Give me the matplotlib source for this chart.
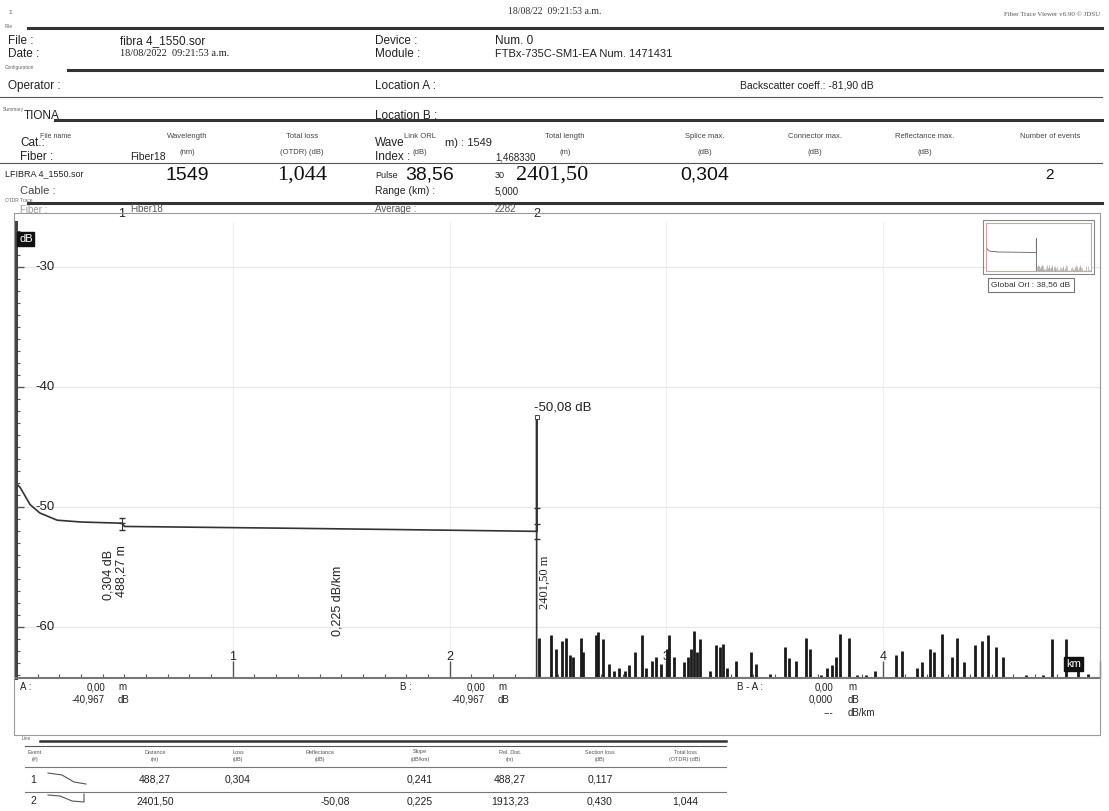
import matplotlib
matplotlib.use("Agg")
import matplotlib.pyplot as plt
import matplotlib.transforms as mtransforms
from matplotlib.lines import Line2D
from matplotlib.patches import Rectangle

plt.rcParams["font.family"] = ["Liberation Sans", "DejaVu Sans"]

trace_km = [0.0, 0.0, 0.02, 0.065, 0.11, 0.19, 0.30, 0.45, 0.488, 0.50, 0.80, 1.31, 1.80, 2.20, 2.4015, 2.4015, 2.4015]
trace_db = [-20.0, -48.0, -48.4, -49.8, -50.5, -51.1, -51.25, -51.33, -51.35, -51.62, -51.68, -51.78, -51.89, -51.98, -52.03, -42.5, -64.6]

noise_km = [2.414, 2.466, 2.492, 2.518, 2.535, 2.557, 2.570, 2.604, 2.616, 2.674,
            2.686, 2.708, 2.734, 2.760, 2.783, 2.807, 2.829, 2.855, 2.887, 2.907,
            2.933, 2.951, 2.973, 3.003, 3.011, 3.037, 3.081, 3.098, 3.115, 3.127,
            3.141, 3.153, 3.202, 3.228, 3.245, 3.263, 3.280, 3.323, 3.392, 3.413,
            3.479, 3.545, 3.566, 3.597, 3.644, 3.661, 3.713, 3.739, 3.765, 3.782,
            3.800, 3.843, 3.878, 3.921, 3.964, 4.060, 4.086, 4.155, 4.181, 4.215,
            4.233, 4.273, 4.319, 4.342, 4.371, 4.423, 4.458, 4.484, 4.519, 4.553,
            4.657, 4.735, 4.779, 4.843, 4.900, 4.943]
noise_db = [-60.9, -60.7, -61.8, -61.2, -60.9, -62.3, -62.5, -60.9, -62.1, -60.7,
            -60.4, -61.0, -63.1, -63.7, -63.4, -63.7, -63.2, -62.1, -60.7, -63.4,
            -62.8, -62.5, -63.1, -61.8, -60.7, -62.5, -62.9, -62.5, -61.8, -60.3,
            -62.1, -61.0, -63.7, -61.5, -61.7, -61.4, -63.4, -62.8, -62.1, -63.1,
            -63.9, -61.7, -62.6, -62.8, -60.9, -61.8, -64.0, -63.4, -63.2, -62.5,
            -60.6, -60.9, -64.0, -64.0, -63.7, -62.3, -62.0, -63.4, -62.9, -61.8,
            -62.1, -60.6, -62.5, -60.9, -62.9, -61.5, -61.2, -60.7, -61.7, -62.5,
            -64.0, -64.0, -61.0, -61.0, -63.7, -63.9]

event_km = [0.48827, 2.4015]
event_num = ["1", "2"]
event_loss_txt = "0,304 dB"
event_dist_txt = ["488,27 m", "2401,50 m"]
slope_txt = "0,225 dB/km"
refl_txt = "-50,08 dB"

y_ticks = [-30, -40, -50, -60]
x_ticks = [1, 2, 3, 4]

summary_head = ["Wavelength", "Total loss", "Link ORL", "Total length", "Splice max.",
                "Connector max.", "Reflectance max.", "Number of events"]
summary_unit = ["(nm)", "(OTDR) (dB)", "(dB)", "(m)", "(dB)", "(dB)", "(dB)", ""]
summary_vals = ["1549", "1,044", "38,56", "2401,50", "0,304", "", "", "2"]

table_head = [("Event", "(#)"), ("Distance", "(m)"), ("Loss", "(dB)"), ("Reflectance", "(dB)"),
              ("Slope", "(dB/km)"), ("Rel. Dist.", "(m)"), ("Section loss", "(dB)"),
              ("Total loss", "(OTDR) (dB)")]
table_rows = [["1", "488,27", "0,304", "", "0,241", "488,27", "0,117", ""],
              ["2", "2401,50", "", "-50,08", "0,225", "1913,23", "0,430", "1,044"]]

W, H = 1109, 811
fig = plt.figure(figsize=(W / 100, H / 100), dpi=100)
SANS = ["Liberation Sans", "DejaVu Sans"]
SERIF = ["Liberation Serif", "DejaVu Serif"]


def txt(x, y, s, size=8, ha="left", va="center", fam=SANS, color="#222", **kw):
    fig.text(x / W, 1 - y / H, s, fontsize=size, ha=ha, va=va, family=fam, color=color, **kw)


def hline(y, x0, x1, lw=1.0, color="#333"):
    fig.add_artist(Line2D([x0 / W, x1 / W], [1 - y / H, 1 - y / H], lw=lw, color=color))


# ---- header ----
txt(8, 12, "1", 4.5, color="#555")
txt(555, 12, "18/08/22  09:21:53 a.m.", 7, ha="center", fam=SERIF, color="#333")
txt(1100, 14, "Fiber Trace Viewer v6.90 \u00a9 JDSU", 5, ha="right", fam=SERIF, color="#555")

txt(5, 26, "File", 3.5, color="#666")
hline(28, 28, 1102, 2.2)
txt(8, 41, "File :", 8.5)
txt(120, 41, "fibra 4_1550.sor", 8.5)
txt(375, 41, "Device :", 8.5)
txt(495, 41, "Num. 0", 8.5)
txt(8, 54, "Date :", 8.5)
txt(120, 54, "18/08/2022  09:21:53 a.m.", 7.5, fam=SERIF)
txt(375, 54, "Module :", 8.5)
txt(495, 54, "FTBx-735C-SM1-EA Num. 1471431", 8)

txt(5, 68, "Configuration", 3.5, color="#666")
hline(70, 68, 1102, 2.2)
txt(8, 86, "Operator :", 8.5)
txt(375, 86, "Location A :", 8.5)
txt(740, 86, "Backscatter coeff.: -81,90 dB", 7.5)
hline(97, 0, 1102, 0.8, "#555")

# summary block (overlapping the configuration text as in the print)
txt(3, 110, "Summary", 3.5, color="#666")
txt(24, 116, "TIONA", 8.5)
txt(375, 116, "Location B :", 8.5)
hline(120, 55, 1102, 2.2)
txt(20, 143, "Cat.:", 8.5)
txt(40, 136, "File name", 5, color="#444")
txt(375, 143, "Wave", 8.5)
txt(445, 143, "m) : 1549", 8)
txt(20, 157, "Fiber :", 8.5)
txt(130, 157, "Fiber18", 7.5)
txt(375, 157, "Index :", 8.5)
txt(495, 158, "1,468330", 7)
hcols = [187, 302, 420, 565, 705, 815, 925, 1050]
for cx, h, u in zip(hcols, summary_head, summary_unit):
    txt(cx, 137, h, 5.5, ha="center", color="#444")
    if u:
        txt(cx, 152, u, 5.5, ha="center", color="#444")
hline(163, 0, 1102, 0.8, "#555")
txt(5, 174, "LFIBRA 4_1550.sor", 6.5)
txt(375, 175, "Pulse", 6.5)
txt(495, 175, "30", 6.5)
vcols = [187, 302, 430, 552, 705, 815, 925, 1050]
for i, (cx, v) in enumerate(zip(vcols, summary_vals)):
    serif = i in (1, 3)
    fam = SERIF if serif else SANS
    sz = 11 if i == 7 else (16 if serif else 14)
    txt(cx, 175, v, sz, ha="center", fam=fam, color="#111")
txt(20, 191, "Cable :", 8, color="#444")
txt(375, 191, "Range (km) :", 7.5)
txt(495, 191, "5,000", 7)
txt(5, 200, "OTDR Trace", 3.5, color="#666")
txt(20, 210, "Fiber :", 7, color="#999")
txt(130, 209, "Fiber18", 7, color="#555")
txt(375, 209, "Average :", 7, color="#555")
txt(495, 209, "2282", 7, color="#555")
hline(203, 28, 1102, 2.2)

# ---- trace axes ----
ax = fig.add_axes([16 / W, 1 - 678 / H, (1100 - 16) / W, (678 - 222) / H])
ax.set_xlim(0, 5)
ax.set_ylim(-64.25, -26.25)
ax.plot(trace_km, trace_db, color="#333", lw=1.2, solid_joinstyle="miter")
ax.vlines(noise_km, -64.6, noise_db, color="#1a1a1a", lw=2.0)

ax.set_xticks(range(0, 6))
ax.set_xticks([i / 10 for i in range(51)], minor=True)
ax.set_yticks(y_ticks)
ax.set_yticks(range(-64, -26), minor=True)
ax.tick_params(which="both", direction="in", labelleft=False, labelbottom=False,
               color="#555")
ax.tick_params(axis="x", which="major", length=12, width=1)
ax.tick_params(axis="x", which="minor", length=3, width=0.8)
ax.tick_params(axis="y", which="major", length=6, width=1)
ax.tick_params(axis="y", which="minor", length=3, width=0.8)
ax.grid(True, which="major", axis="y", color="#e8e8e8", lw=0.9)
ax.grid(True, which="major", axis="x", color="#f0f0f0", lw=0.8)
for s in ("top", "right"):
    ax.spines[s].set_visible(False)
ax.spines["left"].set_linewidth(2.2)
ax.spines["left"].set_color("#444")
ax.spines["bottom"].set_linewidth(1.5)
ax.spines["bottom"].set_color("#777")

ytr = mtransforms.blended_transform_factory(ax.transAxes, ax.transData)
for v in y_ticks:
    ax.text(0.018, v, str(v), transform=ytr, fontsize=9.5, ha="left", va="center", color="#222")
for k in x_ticks:
    ax.text(k, -62.5, str(k), fontsize=9, ha="center", va="center", color="#222")

# event markers
xtr = mtransforms.blended_transform_factory(ax.transData, ax.transAxes)
for km, n in zip(event_km, event_num):
    ax.text(km, 1.005, n, transform=xtr, fontsize=9, ha="center", va="bottom", color="#222")
ax.plot([event_km[0]] * 3, [-50.9, -51.35, -51.9], color="#333", lw=0.8, marker="_", ms=5)
ax.plot([event_km[1]] * 3, [-50.1, -51.4, -52.7], color="#333", lw=0, marker="_", ms=5)
ax.plot([event_km[1]], [-42.5], marker="s", ms=3, mfc="white", mec="#444", mew=0.7)

ax.text(event_km[0] - 0.06, -55.7, event_loss_txt, rotation=90, fontsize=9,
        ha="center", va="center", color="#222")
ax.text(event_km[0], -55.3, event_dist_txt[0], rotation=90, fontsize=9,
        ha="center", va="center", color="#222")
ax.text((event_km[0] + event_km[1]) / 2 + 0.04, -57.8, slope_txt, rotation=90, fontsize=9,
        ha="center", va="center", color="#222")
ax.text(event_km[1] + 0.01, -56.3, event_dist_txt[1], rotation=90, fontsize=9,
        ha="left", va="center", family=SERIF, color="#222")
ax.text(event_km[1] - 0.01, -41.7, refl_txt, fontsize=9.5, ha="left", va="center", color="#222")

txt(19, 239, "dB", 8, color="white",
    bbox=dict(boxstyle="square,pad=0.15", fc="#111", ec="#111"))
txt(1066, 664, "km", 8, color="white",
    bbox=dict(boxstyle="square,pad=0.15", fc="#111", ec="#111"))

# thumbnail of the whole trace
ins = fig.add_axes([986 / W, 1 - 271 / H, 105 / W, 48 / H])
ins.plot(trace_km, trace_db, color="#777", lw=0.7)
ins.vlines(noise_km, -64.6, noise_db, color="#aaa", lw=0.5)
ins.set_xlim(0, 5)
ins.set_ylim(-64.5, -32)
ins.set_xticks([])
ins.set_yticks([])
for s in ins.spines.values():
    s.set_color("#d9a0a0")
    s.set_linewidth(0.8)
fig.add_artist(Rectangle((983 / W, 1 - 274 / H), 111 / W, 54 / H, fill=False,
                         lw=0.8, ec="#888", transform=fig.transFigure))
txt(1031, 285, "Global Orl : 38,56 dB", 6, ha="center", color="#333",
    bbox=dict(boxstyle="square,pad=0.45", fc="white", ec="#777", lw=0.8))

# outer frame of the trace area
fig.add_artist(Rectangle((14 / W, 1 - 735 / H), 1086 / W, 522 / H, fill=False,
                         lw=0.8, ec="#999", transform=fig.transFigure))

# cursor readouts
txt(20, 687, "A :", 7)
txt(105, 687, "0,00", 7, ha="right")
txt(118, 687, "m", 7)
txt(105, 700, "-40,967", 7, ha="right")
txt(118, 700, "dB", 7)
txt(400, 687, "B :", 7)
txt(485, 687, "0,00", 7, ha="right")
txt(498, 687, "m", 7)
txt(485, 700, "-40,967", 7, ha="right")
txt(498, 700, "dB", 7)
txt(737, 687, "B - A :", 7)
txt(833, 687, "0,00", 7, ha="right")
txt(848, 687, "m", 7)
txt(833, 700, "0,000", 7, ha="right")
txt(848, 700, "dB", 7)
txt(833, 713, "---", 7, ha="right")
txt(848, 713, "dB/km", 7)

# ---- event table ----
txt(22, 738, "Line", 3.5, color="#666")
hline(741, 40, 726, 1.8)
hline(746, 25, 726, 0.8, "#555")
tcols = [35, 155, 238, 320, 420, 510, 600, 685]
for cx, (a, b) in zip(tcols, table_head):
    txt(cx, 752, a, 4, ha="center", color="#555")
    txt(cx, 759, b, 4, ha="center", color="#555")
hline(767, 25, 726, 0.8, "#777")
hline(792, 25, 726, 0.8, "#777")
row_y = [780, 801]
for ry, row in zip(row_y, table_rows):
    txt(30, ry, row[0], 7.5)
    for j, (cx, v) in enumerate(zip(tcols[1:], row[1:])):
        xo = 15 if j == 2 else 0
        txt(cx + xo, ry, v, 7.5, ha="center", color="#222")
# event type glyphs
fig.add_artist(Line2D([48 / W, 62 / W, 74 / W, 86 / W],
                      [1 - 773 / H, 1 - 775 / H, 1 - 782 / H, 1 - 784 / H], lw=0.8, color="#555"))
fig.add_artist(Line2D([48 / W, 60 / W, 72 / W, 84 / W, 84 / W],
                      [1 - 795 / H, 1 - 796 / H, 1 - 801 / H, 1 - 802 / H, 1 - 794 / H],
                      lw=0.8, color="#555"))

fig.savefig("out.png", dpi=100)
